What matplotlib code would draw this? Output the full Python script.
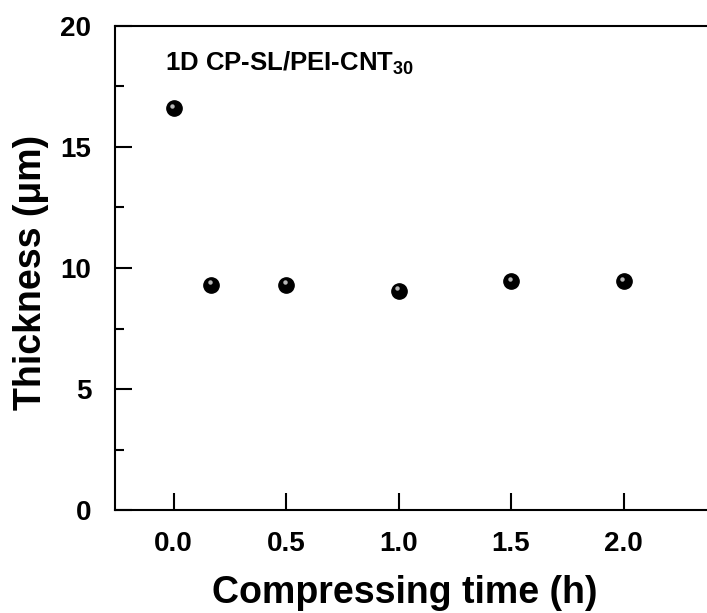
import matplotlib
matplotlib.use("Agg")
import matplotlib.pyplot as plt
import matplotlib.transforms as mtransforms
from matplotlib.ticker import MultipleLocator

"""Font setup - bold Arial-like look"""
plt.rcParams['font.family'] = ['Liberation Sans', 'DejaVu Sans']
plt.rcParams['font.weight'] = 'bold'
plt.rcParams['mathtext.fontset'] = 'custom'
plt.rcParams['mathtext.rm'] = 'Liberation Sans:bold'
plt.rcParams['mathtext.bf'] = 'Liberation Sans:bold'

"""Data read off the picture"""
time_h = [0.0, 0.167, 0.5, 1.0, 1.5, 2.0]            # compressing time (h)
thickness = [16.6, 9.3, 9.3, 9.05, 9.45, 9.45]      # thickness (um)
x_ticks = [0.0, 0.5, 1.0, 1.5, 2.0]
y_ticks = [0, 5, 10, 15, 20]
sample_name = r'1D CP-SL/PEI-CNT$_{\mathbf{30}}$'

W, H = 707, 613
fig = plt.figure(figsize=(W / 100, H / 100), dpi=100)

# axes box in pixels: left 115, bottom 510, top 26, right runs past the edge
left, right, top, bottom = 115, 736, 26, 510
ax = fig.add_axes([left / W, 1 - bottom / H, (right - left) / W, (bottom - top) / H])

ax.set_xlim(-0.26, 2.5)
ax.set_ylim(0, 20)

# black spheres + small highlight
ax.plot(time_h, thickness, 'o', color='black', markersize=11, zorder=3)
hl = mtransforms.offset_copy(ax.transData, fig=fig, x=-1.0, y=1.8, units='points')
ax.plot(time_h, thickness, 'o', color='#d8d8d8', markersize=3.2, markeredgewidth=0,
        alpha=0.85, transform=hl, zorder=4)

ax.set_xticks(x_ticks)
ax.set_xticklabels(['%.1f' % v for v in x_ticks])
ax.set_yticks(y_ticks)
ax.yaxis.set_minor_locator(MultipleLocator(2.5))

ax.tick_params(axis='both', which='major', direction='in', length=12, width=1.5,
               labelsize=20, colors='black')
ax.tick_params(axis='x', which='major', pad=15)
ax.tick_params(axis='y', which='major', pad=17)
ax.tick_params(axis='y', which='minor', direction='in', length=6.5, width=1.5)
for lbl in ax.get_xticklabels() + ax.get_yticklabels():
    lbl.set_fontweight('bold')

for s in ax.spines.values():
    s.set_linewidth(1.5)
ax.spines['right'].set_visible(False)

ax.text(-0.037, 18.18, sample_name, fontsize=18.5, fontweight='bold', ha='left', va='baseline')

fig.text(405 / W, 1 - 603 / H, 'Compressing time (h)', fontsize=27, fontweight='bold',
         ha='center', va='baseline')
fig.text(31 / W, 1 - 272 / H, 'Thickness (\u03bcm)', fontsize=27, fontweight='bold',
         ha='center', va='center', rotation=90)

fig.savefig('out.png', dpi=100)
